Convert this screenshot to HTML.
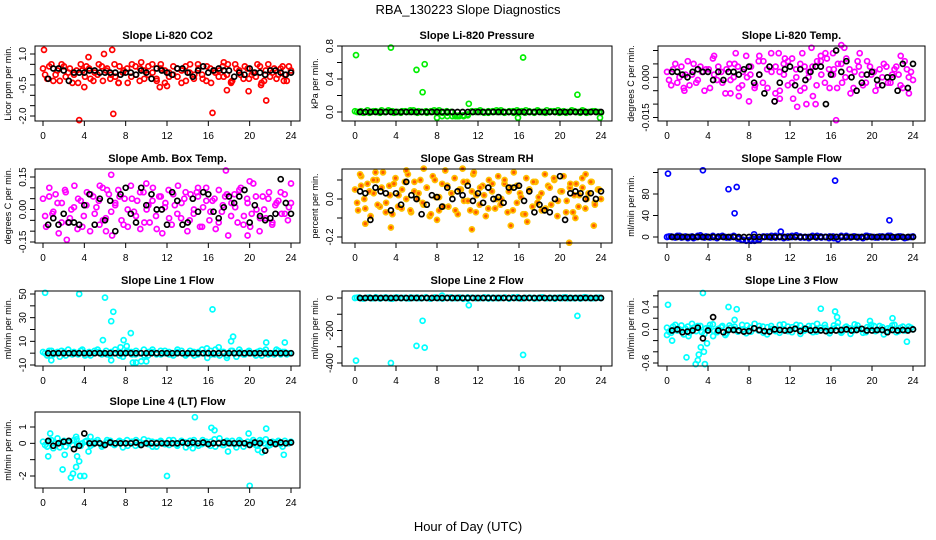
<!DOCTYPE html>
<html><head><meta charset="utf-8"><style>
html,body{margin:0;padding:0;background:#fff;}
svg{display:block;font-family:"Liberation Sans",sans-serif;}
</style></head><body>
<svg id="chart" width="936" height="540" viewBox="0 0 936 540" xmlns="http://www.w3.org/2000/svg">
<text x="468" y="14" font-size="13" text-anchor="middle">RBA_130223  Slope Diagnostics</text>
<text x="468" y="531" font-size="13" text-anchor="middle">Hour of Day (UTC)</text>
</svg>
<script>
// ---------- DATA ----------
const hourTicks=[0,4,8,12,16,20,24];
const co2Bg=[0.3,-0.2,0.5,0.0,-0.3,0.4,0.1,-0.4,0.2,0.5,-0.1,0.3,-0.3,0.0,0.4,0.2,-0.2,0.5,-0.4,0.1,0.3,-0.1,0.4,-0.3,0.2,0.0,0.5,-0.2,0.3,-0.4,0.1,0.4,-0.1,0.2,-0.3,0.5,0.0,0.3,-0.2,0.4,-0.4,0.1,0.2,-0.1,0.5,-0.3,0.3,0.0,0.4,-0.2,0.1,0.5,-0.4,0.2,-0.1,0.3,0.0,0.4,-0.3,0.2];
const co2Bg2=[0.0,0.4,-0.3,0.2,0.5,-0.1,0.3,0.0,-0.4,0.2,0.4,-0.2,0.1,0.5,-0.3,0.3,0.0,-0.1,0.4,0.2,-0.4,0.5,0.0,0.3,-0.2,0.4,0.1,-0.3,0.5,0.2,-0.1,0.0,0.3,-0.4,0.4,0.1,-0.2,0.5,0.0,-0.3,0.3,0.2,-0.1,0.4,0.0,-0.4,0.5,0.2,-0.2,0.3,0.0,-0.1,0.4,-0.3,0.5,0.1,-0.2,0.3,0.0,0.4];
const co2OutH=[0.1,3.5,4.0,4.4,5.9,6.7,6.8,7.3,11.3,12.0,16.4,17.8,18.2,19.9,21.1,21.6,23.3,9.5,17.5];
const co2OutV=[1.2,-2.2,-0.6,0.85,1.0,1.2,-1.9,-0.4,-0.6,-0.55,-1.85,-0.75,-0.35,-0.8,-0.5,-1.25,-0.3,0.6,0.6];
const co2Black=[-0.2,0.3,0.3,0.2,-0.3,0.1,0.1,0.1,0.2,0.2,0.1,0.1,0.1,0.1,0.0,0.1,0.1,0.0,0.2,0.1,-0.2,0.3,0.2,0.1,0.0,0.3,0.3,0.1,-0.1,0.2,0.4,0.1,0.2,0.3,0.2,0.2,-0.1,0.1,0.0,0.3,0.1,0.1,0.0,0.2,0.2,0.1,0.0,0.1];

const presBg=[0.01,0,-0.01,0.02,0,0.01,-0.01,0,0.02,0.01,0,-0.01,0.01,0,0.02,-0.01,0,0.01,0,0.02,0,-0.01,0.01,0,-0.04,-0.05,-0.04,-0.03,0.01,0,0.02,0,-0.01,0.01,0,0.02,0,0.01,-0.01,0,0.01,0.02,0,-0.01,0.01,0,0.02,0.01,0,-0.01,0.01,0,0.02,0,-0.01,0.01,0,0.01,0,-0.01];
const presBg2=[0,0.01,0,-0.01,0.01,0,0.02,0,0.01,-0.01,0,0.01,0,0.02,0,0.01,0,-0.01,0.01,0,0.02,0,-0.01,0,-0.05,-0.04,-0.05,-0.04,0,0.01,0,-0.01,0.01,0,0.02,0,-0.01,0,0.01,0.02,0,-0.01,0.01,0,0.02,0,-0.01,0,0.01,0.02,0,-0.01,0,0.01,0,0.02,-0.01,0,0.01,0];
const presOutH=[0.1,3.5,6.0,6.8,6.6,11.1,16.4,21.7,23.9,15.9,8.0,8.5,9.0,9.5,10.0];
const presOutV=[0.69,0.78,0.51,0.58,0.24,0.10,0.66,0.21,-0.07,-0.07,-0.07,-0.05,-0.05,-0.05,-0.05];
const presBlack=[0,0,0,0,0,0,0,0,0,0,0,0,0,0,0,0,0,0,0,0,0,0,0,0,0,0,0,0,0,0,0,0,0,0,0,0,0,0,0,0,0,0,0,0,0,0,0,0];

const tempBg=[0.002,-0.003,0.005,0.0,-0.004,0.006,0.001,-0.002,0.004,-0.005,0.003,0.007,-0.001,0.002,-0.006,0.005,0.0,0.004,-0.003,0.008,0.001,-0.004,0.006,-0.002,0.003,0.009,-0.006,0.002,0.005,-0.003,0.007,0.0,-0.005,0.004,0.002,-0.007,0.006,0.001,0.009,-0.004,0.003,0.005,-0.002,0.007,-0.006,0.002,0.004,-0.003,0.006,0.001,-0.005,0.003,0.005,-0.002,0.001,0.004,-0.003,0.006,0.0,-0.001];
const tempBg2=[-0.001,0.003,-0.002,0.004,0.001,-0.003,0.005,-0.001,0.002,0.003,-0.004,0.001,0.004,-0.002,0.003,-0.001,0.005,-0.004,0.002,0.0,0.004,-0.003,0.001,0.006,-0.004,0.002,0.004,-0.005,0.001,0.006,-0.002,0.003,0.005,-0.004,0.0,0.004,-0.003,0.006,-0.002,0.003,0.001,-0.004,0.005,0.0,0.003,-0.004,0.006,0.001,-0.002,0.004,0.002,-0.003,0.0,0.004,-0.002,0.003,0.001,-0.004,0.003,0.002];
const tempOutH=[4.6,6.7,8.0,9.0,10.9,11.5,12.3,12.7,13.2,13.6,14.1,14.5,15.0,16.5,17.0,17.3,18.8,22.8,23.6,1.7,6.2,7.0,10.5,11.0,15.6,16.2];
const tempOutV=[0.008,0.009,-0.009,0.008,0.009,0.007,-0.008,-0.011,0.009,-0.01,0.011,-0.01,0.008,-0.016,0.012,0.011,0.009,0.008,-0.006,-0.005,-0.006,-0.007,-0.009,-0.008,0.007,0.009];
const tempBlack=[0.002,0.002,0.001,0.0,0.002,0.003,0.002,0.002,-0.001,0.002,-0.001,0.002,0.002,0.001,0.003,0.004,-0.002,0.001,-0.006,0.004,-0.009,-0.002,0.003,0.004,-0.003,0.003,-0.001,0.002,0.004,0.004,-0.010,0.001,0.010,0.002,0.006,0.0,-0.005,-0.002,0.001,0.002,-0.001,-0.003,0.000,0.000,-0.005,0.005,-0.004,0.005];

const ambBg=[0.05,-0.08,0.1,-0.02,0.07,-0.11,0.03,0.09,-0.06,0.0,0.11,-0.09,0.04,-0.03,0.08,-0.1,0.06,0.01,-0.07,0.1,-0.04,0.07,-0.12,0.02,0.09,-0.05,0.05,-0.08,0.11,-0.01,0.04,-0.09,0.08,0.0,-0.06,0.1,-0.03,0.06,-0.11,0.03,0.09,-0.07,0.02,0.11,-0.04,0.05,-0.1,0.07,-0.02,0.08,-0.08,0.01,0.1,-0.05,0.04,-0.09,0.09,-0.01,0.06,-0.12,0.03,0.07,-0.06,0.1,-0.03,0.05,-0.08,0.12,0.0,-0.1,0.06,-0.04,0.08,-0.07,0.02,0.04,-0.02,0.07,-0.05,0.03];
const ambBg2=[-0.03,0.06,-0.01,0.03,-0.06,0.08,-0.04,0.01,0.05,-0.08,0.02,0.07,-0.02,0.04,-0.05,0.09,-0.01,0.03,0.06,-0.07,0.0,0.05,-0.03,0.08,-0.06,0.02,0.04,-0.09,0.06,0.01,-0.04,0.07,-0.02,0.03,0.08,-0.05,0.0,0.06,-0.08,0.04,-0.01,0.05,-0.06,0.02,0.07,-0.03,0.01,0.09,-0.07,0.03,-0.02,0.06,-0.04,0.0,0.05,-0.06,0.03,0.08,-0.02,0.01];
const ambOutH=[2.3,6.6,6.1,17.7,19.8,24.0,10.0,5.5,15.0,20.0];
const ambOutV=[-0.14,0.16,-0.1,0.18,-0.12,0.12,0.12,0.11,0.1,0.13];
const ambBlack=[-0.07,-0.04,-0.07,-0.02,-0.06,-0.06,-0.07,0.02,0.07,-0.07,0.05,-0.05,0.04,-0.1,0.07,0.1,-0.02,-0.06,0.1,0.02,0.07,0.0,0.0,-0.07,0.08,0.04,-0.07,-0.06,0.05,-0.01,0.08,0.07,-0.01,-0.04,0.01,0.06,0.03,0.06,0.09,-0.06,0.02,-0.03,-0.05,-0.04,-0.02,0.14,0.03,-0.02];

const rhBg=[0.05,-0.06,0.12,0.0,0.08,-0.09,0.03,0.1,-0.04,0.14,-0.02,0.07,-0.08,0.11,0.02,-0.05,0.09,0.13,-0.07,0.04,0.0,0.1,-0.03,0.06,-0.09,0.12,0.01,-0.06,0.08,0.15,-0.04,0.03,0.11,-0.08,0.05,-0.01,0.09,-0.06,0.13,0.02,-0.03,0.07,-0.09,0.1,0.04,-0.05,0.12,0.0,0.08,-0.07,0.06,0.14,-0.02,0.03,-0.08,0.11,0.05,-0.04,0.09,0.01,-0.06,0.13,0.07,-0.03,0.1,-0.09,0.04,0.12,-0.01,0.06,-0.07,0.08,0.02,0.11,-0.05,0.03,0.09,-0.02,0.05,0.0];
const rhBg2=[-0.02,0.07,-0.05,0.04,0.1,-0.03,0.06,-0.07,0.02,0.08,-0.04,0.05,0.0,-0.06,0.09,0.03,-0.02,0.06,-0.08,0.1,0.01,-0.04,0.07,0.03,-0.06,0.05,0.09,-0.01,0.04,-0.07,0.06,0.02,-0.05,0.08,0.0,-0.03,0.1,0.04,-0.06,0.07,0.01,-0.08,0.05,0.09,-0.02,0.03,-0.05,0.06,0.11,-0.01,0.04,-0.07,0.08,0.02,-0.04,0.06,0.0,0.09,-0.03,0.05];
const rhOutH=[0.5,3.5,5.0,6.7,10.5,11.6,11.4,8.0,15.2,16.8,20.9,22.5,23.3,1.0,2.0,21.5];
const rhOutV=[0.13,-0.15,0.15,0.16,0.16,0.14,-0.16,-0.11,-0.14,-0.12,-0.23,0.13,-0.14,-0.13,0.14,-0.1];
const rhBlack=[0.04,0.03,-0.11,0.06,0.04,0.03,-0.06,0.03,-0.03,0.09,0.02,0.0,-0.08,-0.03,0.02,0.01,-0.04,0.06,0.0,0.04,0.02,0.07,-0.01,0.03,-0.02,0.06,0.0,0.01,-0.02,0.06,0.06,0.07,-0.01,0.04,-0.07,-0.03,-0.06,-0.07,0.0,0.12,-0.11,0.03,0.04,0.03,0.0,0.03,0.0,0.04];

const sfBg=[0,1,-1,2,0,-2,1,0,3,-1,0,2,-2,1,0,-1,2,-3,-6,-7,-5,-7,-6,0,1,-1,2,0,-2,1,0,3,-1,0,-2,1,2,-1,0,1,-2,-4,0,2,-1,1,0,-2,2,0,-1,1,0,2,-1,0,1,-2,0,1];
const sfBg2=[1,0,2,-1,1,0,-2,2,0,1,-1,0,1,2,-1,0,1,-2,-5,-6,-7,-5,-4,1,0,2,-1,1,0,-1,2,0,1,-1,0,2,-1,1,0,-2,1,0,2,-1,0,1,-1,0,2,1,0,-1,1,0,2,-1,1,0,-1,0];
const sfOutH=[0.1,3.5,6.0,6.8,6.6,8.5,11.1,16.4,21.7];
const sfOutV=[118,124,89,93,44,5,10,105,31];
const sfBlack=[0,0,0,0,0,0,0,0,0,0,0,0,0,0,0,0,0,0,0,0,0,0,0,0,0,0,0,0,0,0,0,0,0,0,0,0,0,0,0,0,0,0,0,0,0,0,0,0];

const l1Bg=[1,-2,2,0,-3,1,3,-1,0,2,-2,1,0,3,-1,2,-2,0,1,-3,2,1,-1,0,3,-2,1,-1,2,0,1,-2,3,0,-1,2,-2,1,0,4,-1,3,-2,1,0,2,-3,1,-1,2,0,1,-2,3,0,-1,2,1,-1,0];
const l1Bg2=[0,2,-1,1,2,-2,0,1,-1,3,0,-2,2,1,0,-1,1,3,-2,0,1,-1,2,0,-2,1,3,0,-1,2,-1,0,1,2,-2,0,1,-1,3,0,2,-1,0,1,-2,2,0,3,-1,1,0,-2,2,1,-1,0,3,-1,1,0];
const l1OutH=[0.2,3.5,6.0,5.8,6.6,6.8,6.6,7.5,7.8,8.1,8.5,8.7,9.0,9.5,10.0,0.8,16.4,15.9,18.2,18.4,17.8,21.6,23.4,17.0];
const l1OutV=[51,50,47,11,27,35,-6,5,11,6,17,-8,-8,-7,-7,-6,37,-4,10,14,-4,9,9,5];
const l1Black=[0,0,0,0,0,0,0,0,0,0,0,0,0,0,0,0,0,0,0,0,0,0,0,0,0,0,0,0,0,0,0,0,0,0,0,0,0,0,0,0,0,0,0,0,0,0,0,0];

const l2Bg=[0,3,-4,2,-2,5,-3,1,0,-5,4,-1,2,-3,0,3,-2,5,-4,1,0,-3,2,4,-1,0,-5,3,1,-2,0,4,-3,2,-1,0,3,-4,1,5,-2,0,2,-3,1,4,-1,0,-4,2,3,-2,0,1,-3,5,0,-1,2,0];
const l2Bg2=[2,-1,0,3,-2,1,0,4,-3,1,2,0,-2,3,1,-1,0,2,-3,4,0,-1,2,-2,1,3,0,-4,2,1,-1,0,3,-2,1,0,2,-1,4,0,-3,1,2,0,-1,3,-2,1,0,2,-1,4,0,-2,1,0,3,-1,0,2];
const l2OutH=[0.1,3.5,6.0,6.6,6.8,11.1,16.4,21.7,8.5];
const l2OutV=[-385,-400,-295,-140,-305,-45,-350,-110,15];
const l2Black=[0,0,0,0,0,0,0,0,0,0,0,0,0,0,0,0,0,0,0,0,0,0,0,0,0,0,0,0,0,0,0,0,0,0,0,0,0,0,0,0,0,0,0,0,0,0,0,0];

const l3Bg=[0.03,-0.06,0.08,0.0,-0.09,0.05,0.1,-0.03,0.06,-0.08,0.02,0.09,-0.05,0.04,-0.1,0.07,0.01,-0.04,0.08,-0.07,0.03,0.1,-0.02,0.05,-0.09,0.06,0.0,-0.06,0.09,-0.03,0.04,0.08,-0.08,0.02,0.06,-0.05,0.1,-0.01,0.03,-0.07,0.07,0.12,-0.04,0.05,-0.08,0.09,0.01,-0.06,0.04,0.08,-0.03,0.06,-0.09,0.02,0.07,-0.05,0.03,-0.02,0.05,0.0];
const l3Bg2=[-0.04,0.05,-0.02,0.07,0.01,-0.06,0.03,0.06,-0.05,0.02,0.08,-0.03,0.01,0.06,-0.07,0.03,0.05,-0.02,0.0,0.07,-0.04,0.02,0.06,-0.06,0.04,0.01,-0.03,0.08,-0.01,0.05,-0.05,0.02,0.07,-0.02,0.0,0.06,-0.04,0.03,0.08,-0.03,0.01,0.05,-0.06,0.04,0.02,-0.02,0.07,0.0,-0.05,0.03,0.06,-0.01,0.04,-0.04,0.02,0.08,-0.03,0.05,0.0,0.03];
const l3OutH=[0.1,0.0,0.5,1.9,2.1,2.8,3.0,3.1,3.3,3.5,3.6,3.7,3.9,6.0,6.6,6.8,15.0,16.4,16.6,23.4,19.8,22.0,4.5];
const l3OutV=[0.44,-0.1,-0.2,-0.5,-0.12,-0.62,-0.55,-0.45,-0.32,0.65,-0.4,-0.62,-0.25,0.4,0.17,0.36,0.37,0.32,0.22,-0.22,0.15,0.2,-0.12];
const l3Black=[-0.02,0.0,-0.05,-0.04,-0.02,0.03,-0.16,-0.02,0.22,-0.02,-0.05,-0.01,-0.01,-0.02,-0.04,-0.03,0.02,-0.01,-0.03,-0.04,0.0,-0.01,-0.02,-0.01,0.01,-0.03,0.01,-0.02,-0.01,-0.02,-0.03,-0.02,-0.02,-0.01,0.0,-0.02,-0.01,0.01,-0.02,-0.02,-0.01,-0.01,-0.05,-0.01,-0.02,-0.01,-0.02,0.0];

const l4Bg=[0.1,-0.2,0.2,0.0,-0.25,0.15,0.05,-0.1,0.25,-0.15,0.1,0.0,-0.05,0.2,-0.2,0.05,0.15,-0.1,0.1,-0.25,0.2,0.0,-0.15,0.05,0.25,-0.05,0.1,-0.2,0.15,0.0,-0.1,0.2,-0.05,0.1,-0.25,0.15,0.05,-0.15,0.2,0.0,0.1,-0.2,0.3,-0.1,0.05,0.15,-0.25,0.1,0.0,-0.05,0.2,-0.15,0.1,0.25,-0.1,0.05,0.15,-0.2,0.0,0.1];
const l4Bg2=[-0.1,0.15,-0.3,0.3,0.05,-0.2,0.1,0.2,-0.05,0.0,0.15,-0.15,0.1,0.05,-0.1,0.2,0.0,-0.05,0.15,0.05,-0.15,0.1,0.2,-0.1,0.0,0.15,-0.2,0.05,0.1,-0.05,0.2,0.0,-0.15,0.15,0.05,-0.1,0.2,0.0,-0.05,0.1,-0.15,0.25,0.05,-0.1,0.15,0.0,-0.05,0.2,-0.2,0.1,0.05,-0.1,0.2,0.0,-0.15,0.1,0.05,-0.05,0.15,0.0];
const l4OutH=[0.5,0.7,1.9,2.1,2.7,2.9,3.2,3.3,3.5,3.6,4.0,3.2,4.4,4.6,12.0,14.7,16.3,16.6,20.0,19.9,21.6,21.2,23.3,20.8,17.9,14.5];
const l4OutV=[-0.8,0.6,-1.6,-0.7,-2.1,-1.85,-1.45,-0.8,-1.1,-2.0,-2.0,0.4,-0.5,0.4,-2.0,1.6,0.95,0.8,-2.6,0.6,0.9,-0.55,-0.7,-0.4,-0.5,-0.3];
const l4Black=[0.15,-0.15,0.0,0.1,0.15,-0.35,-0.15,0.6,0.0,0.0,0.0,-0.1,0.05,0.0,0.0,0.0,0.0,0.05,-0.1,0.0,0.0,0.0,0.0,0.0,0.0,0.0,0.05,0.0,0.05,0.0,0.05,-0.05,0.0,0.0,0.05,0.0,0.0,0.0,0.0,-0.1,0.05,0.0,-0.45,0.05,-0.05,0.05,0.0,0.05];

// ---------- LAYOUT ----------
const cols=[{l:35,r:300,x0:43,x24:291},{l:342,r:612,x0:355,x24:601},{l:658,r:925,x0:667,x24:913}];
const rows=[{t:46,b:121},{t:169,b:243},{t:291,b:366},{t:412,b:488}];
const panels=[
 {id:'co2',title:'Slope Li-820 CO2',ylab:'Licor ppm per min.',c:0,r:0,va:1,pa:54,vb:-2,pb:116,ticks:[1,0.5,0,-0.5,-1,-1.5,-2],labels:{'1':'1.0','-0.5':'-0.5','-2':'-2.0'},col:'#ff0000',bg:co2Bg,bg2:co2Bg2,oh:co2OutH,ov:co2OutV,bk:co2Black},
 {id:'pressure',title:'Slope Li-820 Pressure',ylab:'kPa per min.',c:1,r:0,va:0.8,pa:46,vb:0,pb:112,ticks:[0,0.2,0.4,0.6,0.8],labels:{'0':'0.0','0.4':'0.4','0.8':'0.8'},col:'#00ee00',bg:presBg,bg2:presBg2,oh:presOutH,ov:presOutV,bk:presBlack},
 {id:'temp',title:'Slope Li-820 Temp.',ylab:'degrees C per min.',c:2,r:0,va:0,pa:77.3,vb:-0.015,pb:117.5,ticks:[0.01,0.005,0,-0.005,-0.01,-0.015],labels:{'0':'0.000','-0.015':'-0.015'},col:'#ff00ff',bg:tempBg,bg2:tempBg2,oh:tempOutH,ov:tempOutV,bk:tempBlack},
 {id:'ambbox',title:'Slope Amb. Box Temp.',ylab:'degrees C per min.',c:0,r:1,va:0.15,pa:177,vb:-0.15,pb:242,ticks:[0.15,0.1,0.05,0,-0.05,-0.1,-0.15],labels:{'0.15':'0.15','0':'0.00','-0.15':'-0.15'},col:'#ff00ff',bg:ambBg,bg2:ambBg2,oh:ambOutH,ov:ambOutV,bk:ambBlack},
 {id:'rh',title:'Slope Gas Stream RH',ylab:'percent per min.',c:1,r:1,va:0,pa:199,vb:-0.2,pb:237,ticks:[0.1,0,-0.1,-0.2],labels:{'0':'0.0','-0.2':'-0.2'},col:'#ffc000',fill:'#ff5a00',bg:rhBg,bg2:rhBg2,oh:rhOutH,ov:rhOutV,bk:rhBlack},
 {id:'sampleflow',title:'Slope Sample Flow',ylab:'ml/min per min.',c:2,r:1,va:0,pa:237,vb:80,pb:194,ticks:[0,40,80,120],labels:{'0':'0','40':'40','80':'80'},col:'#0000ff',bg:sfBg,bg2:sfBg2,oh:sfOutH,ov:sfOutV,bk:sfBlack},
 {id:'line1',title:'Slope Line 1 Flow',ylab:'ml/min per min.',c:0,r:2,va:50,pa:294,vb:-10,pb:365,ticks:[50,40,30,20,10,0,-10],labels:{'50':'50','30':'30','10':'10','-10':'-10'},col:'#00ffff',bg:l1Bg,bg2:l1Bg2,oh:l1OutH,ov:l1OutV,bk:l1Black},
 {id:'line2',title:'Slope Line 2 Flow',ylab:'ml/min per min.',c:1,r:2,va:0,pa:298,vb:-400,pb:363,ticks:[0,-100,-200,-300,-400],labels:{'0':'0','-200':'-200','-400':'-400'},col:'#00ffff',bg:l2Bg,bg2:l2Bg2,oh:l2OutH,ov:l2OutV,bk:l2Black},
 {id:'line3',title:'Slope Line 3 Flow',ylab:'ml/min per min.',c:2,r:2,va:0.4,pa:307,vb:-0.6,pb:363,ticks:[0.6,0.4,0.2,0,-0.2,-0.4,-0.6],labels:{'0.4':'0.4','0':'0.0','-0.6':'-0.6'},col:'#00ffff',bg:l3Bg,bg2:l3Bg2,oh:l3OutH,ov:l3OutV,bk:l3Black},
 {id:'line4',title:'Slope Line 4 (LT) Flow',ylab:'ml/min per min.',c:0,r:3,va:1,pa:427,vb:-2,pb:476,ticks:[1,0,-1,-2],labels:{'1':'1','0':'0','-2':'-2'},col:'#00ffff',bg:l4Bg,bg2:l4Bg2,oh:l4OutH,ov:l4OutV,bk:l4Black}
];
const NS='http://www.w3.org/2000/svg';
const svg=document.getElementById('chart');
function mk(tag,attrs,parent){const e=document.createElementNS(NS,tag);for(const k in attrs)e.setAttribute(k,attrs[k]);(parent||svg).appendChild(e);return e;}
panels.forEach(p=>{
  const C=cols[p.c],R=rows[p.r];
  const g=mk('g',{});
  
  
  const xs=h=>C.x0+(C.x24-C.x0)*h/24;
  const ys=v=>p.pa+(v-p.va)*(p.pb-p.pa)/(p.vb-p.va);
  const cx=(C.l+C.r)/2;
  const t=mk('text',{x:cx,y:R.t-7,'font-size':11,'font-weight':'bold','text-anchor':'middle'},g);t.textContent=p.title;
  
  
  const pts=mk('g',{},g);
  
  
  const dot=(h,v,color,fill,name)=>{const c=mk('circle',{cx:xs(h).toFixed(1),cy:ys(v).toFixed(1),r:2.5,fill:fill||'none',stroke:color,'stroke-width':1.7},pts);
    
    };
  const n=p.bg.length;
  p.bg.forEach((v,i)=>dot(i*24/(n-1),v,p.col,p.fill,p.id+'-point'));
  const n2=p.bg2.length;
  p.bg2.forEach((v,i)=>dot((i+0.5)*24/n2,v,p.col,p.fill,p.id+'-point'));
  p.oh.forEach((h,i)=>dot(h,p.ov[i],p.col,p.fill,p.id+'-outlier'));
  p.bk.forEach((v,i)=>dot(0.5*(i+1),v,'#000',null,p.id+'-mean-point'));
  const b=mk('rect',{x:C.l,y:R.t,width:C.r-C.l,height:R.b-R.t,fill:'none',stroke:'#000','stroke-width':1},g);
  
  
  const xa=mk('g',{},g);
  
  
  hourTicks.forEach(h=>{const x=xs(h);mk('line',{x1:x,x2:x,y1:R.b,y2:R.b+5,stroke:'#000'},xa);
    const tl=mk('text',{x:x,y:R.b+18,'font-size':10,'text-anchor':'middle'},xa);tl.textContent=h;});
  const ya=mk('g',{},g);
  
  
  p.ticks.forEach(v=>{const y=ys(v);mk('line',{x1:C.l,x2:C.l-5,y1:y,y2:y,stroke:'#000'},ya);
    const key=String(v);if(p.labels[key]!==undefined){const tx=C.l-9;const tl=mk('text',{x:tx,y:y,'font-size':10,'text-anchor':'middle',transform:`rotate(-90 ${tx} ${y})`},ya);tl.textContent=p.labels[key];}});
  const ly=(R.t+R.b)/2,lx=C.l-24;
  const yl=mk('text',{x:lx,y:ly,'font-size':9,'text-anchor':'middle',transform:`rotate(-90 ${lx} ${ly})`},g);yl.textContent=p.ylab;
  
  
});
</script>
</body></html>
